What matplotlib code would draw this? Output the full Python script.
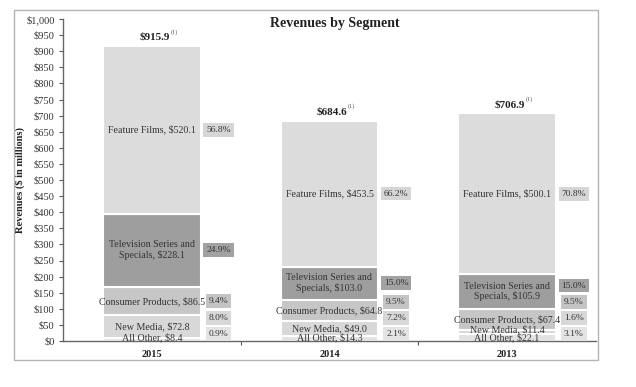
import numpy as np
import matplotlib.pyplot as plt
from matplotlib.patches import Rectangle
from matplotlib.ticker import FuncFormatter, MultipleLocator

plt.rcParams['font.family'] = ['Liberation Serif', 'DejaVu Serif']

years = ['2015', '2014', '2013']
segments = ['All Other', 'New Media', 'Consumer Products',
            'Television Series and\nSpecials', 'Feature Films']
all_other = [8.4, 14.3, 22.1]
new_media = [72.8, 49.0, 11.4]
consumer = [86.5, 64.8, 67.4]
television = [228.1, 103.0, 105.9]
feature = [520.1, 453.5, 500.1]
totals = [915.9, 684.6, 706.9]
pcts = [['0.9%', '8.0%', '9.4%', '24.9%', '56.8%'],
        ['2.1%', '7.2%', '9.5%', '15.0%', '66.2%'],
        ['3.1%', '1.6%', '9.5%', '15.0%', '70.8%']]

seg_colors = ['#e2e2e2', '#d8d8d8', '#c6c6c6', '#9e9e9e', '#dcdcdc']
box_colors = ['#e4e4e4', '#d8d8d8', '#c4c4c4', '#a2a2a2', '#d6d6d6']

fig = plt.figure(figsize=(6.36, 3.87), dpi=100)
ax = fig.add_axes([63/636, 46/387, 533/636, 322/387])
fig.patches.append(Rectangle((14/636, 27/387), 584/636, 350/387,
                             transform=fig.transFigure, fill=False,
                             edgecolor='#b4b4b4', linewidth=1.0))

data = np.array([all_other, new_media, consumer, television, feature])
x = np.arange(len(years))
width = 0.55
bottoms = np.zeros(len(years))
for i in range(len(segments)):
    ax.bar(x, data[i], width, bottom=bottoms, color=seg_colors[i],
           edgecolor='white', linewidth=1.5)
    bottoms = bottoms + data[i]

for j in range(len(years)):
    base = 0.0
    prev_lab = -100
    prev_box = -100
    for i in range(len(segments)):
        v = data[i, j]
        c = base + v / 2
        # label inside the bar
        ly = c
        if i == 0:
            ly = max(c, 10)
        elif i < 3:
            ly = max(c, prev_lab + 26)
        prev_lab = ly
        name = segments[i]
        ax.text(x[j], ly, f'{name}, ${v:.1f}', ha='center', va='center',
                fontsize=7.2, color='#333333', linespacing=1.1)
        # percentage box
        by = max(c, 22, prev_box + 50)
        prev_box = by
        ax.text(x[j] + 0.375, by, pcts[j][i], ha='center', va='center',
                fontsize=6.8, color='#333333',
                bbox=dict(boxstyle='square,pad=0.3', facecolor=box_colors[i],
                          edgecolor='none'))
        base += v
    ax.annotate(f'${totals[j]:.1f}', (x[j] + 0.1, totals[j]),
                xytext=(0, 3), textcoords='offset points',
                ha='right', va='bottom', fontsize=8, fontweight='bold',
                color='#222222')
    ax.annotate('(1)', (x[j] + 0.1, totals[j]),
                xytext=(0.5, 8), textcoords='offset points',
                ha='left', va='bottom', fontsize=4.5, color='#555555')

ax.set_xlim(-0.5, 2.5)
ax.set_ylim(0, 1000)
ax.yaxis.set_major_locator(MultipleLocator(50))
ax.yaxis.set_major_formatter(FuncFormatter(lambda v, p: f'${v:,.0f}'))
ax.set_xticks([0.5, 1.5])
ax.set_xticklabels(['', ''])
for j in range(len(years)):
    ax.text(x[j], -42, years[j], ha='center', va='center',
            fontsize=7.5, fontweight='bold', color='#222222')

ax.tick_params(axis='y', labelsize=7.5, labelcolor='#333333', length=3,
               color='#555555', width=0.8, pad=3)
ax.tick_params(axis='x', length=3, color='#555555', width=0.8)
for s in ['top', 'right']:
    ax.spines[s].set_visible(False)
for s in ['left', 'bottom']:
    ax.spines[s].set_color('#666666')
    ax.spines[s].set_linewidth(1.0)

ax.set_ylabel('Revenues ($ in millions)', fontsize=7.5, fontweight='bold',
              color='#222222')
ax.yaxis.set_label_coords(-38/533, 0.5)
fig.text(335/636, 1 - 24/387, 'Revenues by Segment', ha='center',
         va='center', fontsize=10, fontweight='bold', color='#222222')

fig.savefig('out.png', dpi=100)
